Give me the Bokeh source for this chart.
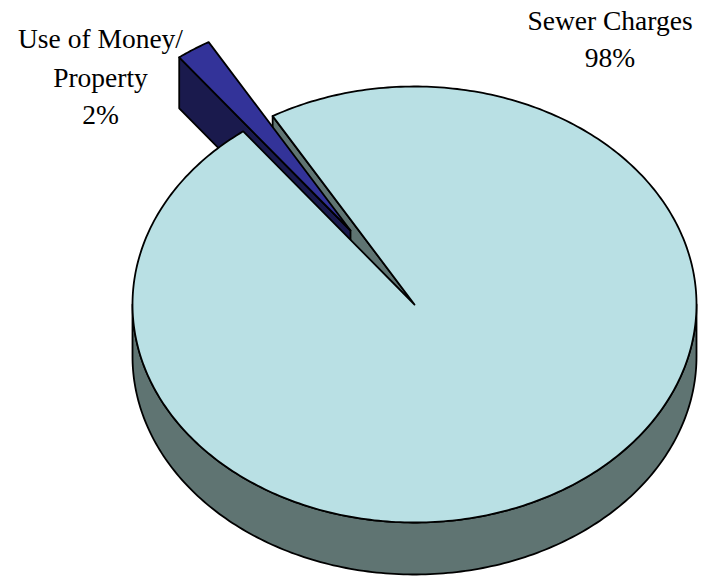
import numpy as np
from bokeh.core.properties import value
from bokeh.embed import file_html
from bokeh.plotting import figure
from bokeh.resources import INLINE

# Revenue shares, percent
categories = ["Sewer Charges", "Use of Money/\nProperty"]
shares = [98, 2]

# Pie geometry on the page, in pixels
CX, CY = 414, 304
RX, RY = 282, 218
DEPTH = 52
EXPLODE = (-64, -74)
SMALL_START = -37.4  # degrees clockwise from twelve o'clock

TOP = "#B9E0E4"
WALL = "#5F7472"
BLUE = "#333399"
NAVY = "#1A1A4D"

p = figure(width=705, height=576, x_range=(0, 705), y_range=(576, 0),
           output_backend="svg", toolbar_location=None, min_border=0,
           outline_line_color=None)
p.axis.visible = False
p.grid.visible = False


def rim(a, cx=CX, cy=CY):
    r = np.radians(a)
    return cx + RX * np.sin(r), cy - RY * np.cos(r)


def poly(xs, ys, color):
    p.patch(list(xs), list(ys), fill_color=color, line_color="black",
            line_width=1.8, line_join="round")


small_sweep = 360 * shares[1] / sum(shares)
small_end = SMALL_START + small_sweep
big_angles = np.linspace(small_end, SMALL_START + 360, 400)

# Outer wall of the large slice: the front half of the rim
front = np.linspace(90, 270, 200)
fx, fy = rim(front)
poly(np.r_[fx, fx[::-1]], np.r_[fy, (fy + DEPTH)[::-1]], WALL)

# Cut face of the large slice, seen through the gap
ex, ey = rim(small_end)
poly([ex, CX, CX, ex], [ey, CY, CY + DEPTH, ey + DEPTH], WALL)

# Exploded slice: side wall first
sx0, sy0 = CX + EXPLODE[0], CY + EXPLODE[1]
ax, ay = rim(SMALL_START, sx0, sy0)
poly([ax, sx0, sx0, ax], [ay, sy0, sy0 + DEPTH - 1, ay + DEPTH - 1], NAVY)

# Top of the large slice
bx, by = rim(big_angles)
poly(np.r_[CX, bx], np.r_[CY, by], TOP)

# Top of the exploded slice
small_angles = np.linspace(SMALL_START, small_end, 20)
tx, ty = rim(small_angles, sx0, sy0)
poly(np.r_[sx0, tx], np.r_[sy0, ty], BLUE)

# Labels, placed by their vertical middle
lines = [
    (609.5, 20, categories[0]),
    (609.5, 57, f"{shares[0]}%"),
    (100, 38, categories[1].split("\n")[0]),
    (100, 77, categories[1].split("\n")[1]),
    (100, 114, f"{shares[1]}%"),
]
p.text([l[0] for l in lines], [l[1] for l in lines], text=[l[2] for l in lines],
       text_font=value("Liberation Serif"), text_font_size="27.5px",
       text_color="black", text_align="center", text_baseline="middle")

open("out.html", "w").write(file_html(p, INLINE))
